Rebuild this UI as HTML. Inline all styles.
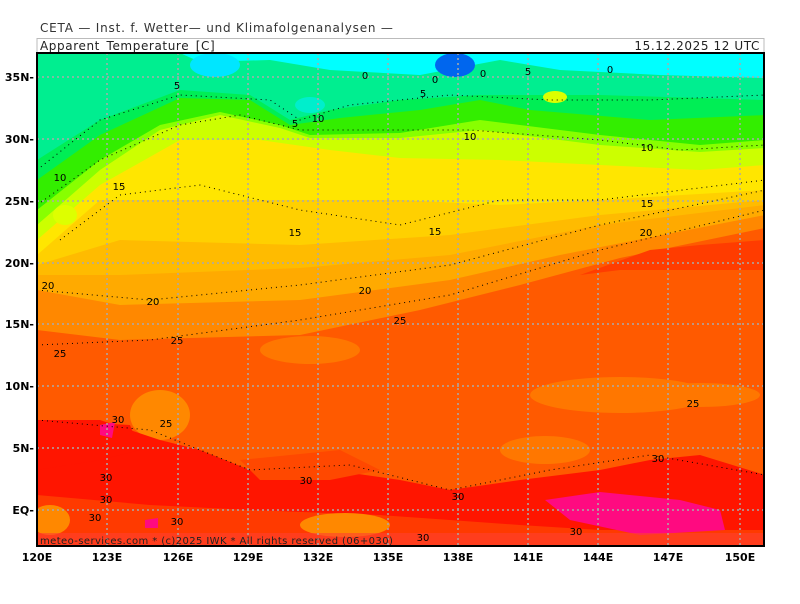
<!DOCTYPE html>
<html><head><meta charset="utf-8"><style>
body{margin:0;background:#fff;width:800px;height:600px;overflow:hidden;font-family:"DejaVu Sans","Liberation Sans",sans-serif}
</style></head><body>
<svg width="800" height="600" xmlns="http://www.w3.org/2000/svg" font-family="DejaVu Sans, Liberation Sans, sans-serif">
<text x="40" y="32" font-size="12" fill="#333" letter-spacing="0.8">CETA — Inst. f. Wetter— und Klimafolgenanalysen —</text>
<rect x="37" y="38.5" width="727" height="14" fill="#fff" stroke="#bbb"/>
<text x="40" y="50" font-size="12" fill="#222" letter-spacing="0.6">Apparent_Temperature_[C]</text>
<text x="760" y="50" font-size="12" fill="#222" text-anchor="end" letter-spacing="0.6">15.12.2025 12 UTC</text>
<defs><clipPath id="c"><rect x="37" y="53" width="727" height="493"/></clipPath></defs>
<g clip-path="url(#c)">
<rect x="37" y="53" width="727" height="493" fill="#00ffff"/>
<path d="M37,53 L180,53 L200,62 L270,60 L330,70 L420,75 L500,60 L560,70 L660,75 L765,78 L765,546 L37,546Z" fill="#00ee90"/>
<path d="M37,160 L100,120 L180,90 L250,95 L290,120 L330,110 L400,100 L480,95 L600,95 L765,100 L765,546 L37,546Z" fill="#00ee55"/>
<path d="M37,180 L100,135 L180,98 L250,100 L290,125 L340,118 L420,110 L480,100 L530,110 L650,120 L765,115 L765,546 L37,546Z" fill="#33ee00"/>
<path d="M37,210 L100,160 L160,125 L220,112 L280,125 L310,135 L400,133 L480,120 L600,135 L700,145 L765,140 L765,546 L37,546Z" fill="#88ff00"/>
<path d="M37,225 L100,170 L160,130 L220,115 L280,128 L310,138 L400,138 L480,130 L600,145 L700,152 L765,148 L765,546 L37,546Z" fill="#ccff00"/>
<path d="M37,240 L100,185 L180,140 L260,140 L330,150 L400,158 L500,160 L600,165 L700,170 L765,165 L765,546 L37,546Z" fill="#ffe600"/>
<path d="M37,255 L100,200 L250,200 L400,200 L500,205 L600,200 L765,190 L765,546 L37,546Z" fill="#ffd000"/>
<path d="M37,265 L120,240 L300,245 L450,235 L600,215 L765,200 L765,546 L37,546Z" fill="#ffbb00"/>
<path d="M37,275 L120,275 L300,268 L450,255 L600,225 L765,205 L765,546 L37,546Z" fill="#ffaa00"/>
<path d="M37,290 L120,305 L300,300 L450,280 L560,255 L765,215 L765,546 L37,546Z" fill="#ff8800"/>
<path d="M37,330 L120,340 L300,335 L420,310 L520,285 L620,258 L765,228 L765,546 L37,546Z" fill="#ff5a00"/>
<path d="M580,275 L650,250 L700,245 L765,240 L765,270 L700,270 L620,270 Z" fill="#ff3c00"/>
<ellipse cx="310" cy="350" rx="50" ry="14" fill="#ff7700"/>
<ellipse cx="620" cy="395" rx="90" ry="18" fill="#ff7700"/>
<ellipse cx="700" cy="395" rx="60" ry="12" fill="#ff7700"/>
<ellipse cx="545" cy="450" rx="45" ry="14" fill="#ff7700"/>
<ellipse cx="160" cy="415" rx="30" ry="25" fill="#ff8800"/>
<path d="M37,420 L100,420 L160,440 L200,450 L250,470 L330,470 L400,480 L450,490 L520,480 L600,470 L650,460 L700,455 L765,475 L765,546 L37,546Z" fill="#ff1500"/>
<path d="M37,420 L130,425 L140,450 L100,460 L37,470Z" fill="#ff1500"/>
<path d="M240,460 L340,450 L380,470 L330,480 L260,480Z" fill="#ff4800"/>
<path d="M37,495 L150,505 L250,510 L380,515 L450,520 L520,525 L600,530 L765,530 L765,546 L37,546Z" fill="#ff3a00"/>
<ellipse cx="345" cy="525" rx="45" ry="12" fill="#ff8800"/>
<ellipse cx="50" cy="520" rx="20" ry="15" fill="#ff8800"/>
<path d="M545,500 L600,492 L680,500 L720,510 L725,530 L640,535 L570,520Z" fill="#ff0a80"/>
<path d="M100,425 L115,422 L112,438 L100,435Z" fill="#ff0a80"/>
<path d="M145,520 L158,518 L158,528 L145,528Z" fill="#ff0a80"/>
<ellipse cx="215" cy="65" rx="25" ry="12" fill="#00e6ff"/>
<ellipse cx="455" cy="65" rx="20" ry="12" fill="#0066ee"/>
<ellipse cx="310" cy="105" rx="15" ry="8" fill="#00eecc"/>
<ellipse cx="555" cy="97" rx="12" ry="6" fill="#ddff00"/>
<ellipse cx="65" cy="215" rx="12" ry="10" fill="#ddff00"/>
<rect x="37" y="533" width="727" height="13" fill="#ff4030" opacity="0.6"/>
<g stroke="#aaa" stroke-width="1.5" stroke-dasharray="2,3">
<line x1="107" y1="53" x2="107" y2="546"/><line x1="178" y1="53" x2="178" y2="546"/><line x1="248" y1="53" x2="248" y2="546"/><line x1="318" y1="53" x2="318" y2="546"/><line x1="388" y1="53" x2="388" y2="546"/><line x1="458" y1="53" x2="458" y2="546"/><line x1="528" y1="53" x2="528" y2="546"/><line x1="598" y1="53" x2="598" y2="546"/><line x1="668" y1="53" x2="668" y2="546"/><line x1="740" y1="53" x2="740" y2="546"/>
<line x1="37" y1="77" x2="764" y2="77"/><line x1="37" y1="139" x2="764" y2="139"/><line x1="37" y1="201" x2="764" y2="201"/><line x1="37" y1="263" x2="764" y2="263"/><line x1="37" y1="324" x2="764" y2="324"/><line x1="37" y1="386" x2="764" y2="386"/><line x1="37" y1="448" x2="764" y2="448"/><line x1="37" y1="510" x2="764" y2="510"/>
</g>
<g fill="none" stroke="#000" stroke-width="1" stroke-dasharray="1,4">
<path d="M37,170 L100,120 L180,95 L270,100 L300,120 L350,105 L450,95 L550,100 L650,100 L765,95"/>
<path d="M37,205 L100,160 L180,125 L240,115 L300,130 L400,130 L470,130 L600,140 L680,150 L765,145"/>
<path d="M60,240 L120,195 L200,185 L300,210 L400,225 L500,200 L600,200 L765,180"/>
<path d="M37,290 L150,300 L300,285 L450,265 L600,225 L765,190"/>
<path d="M37,345 L150,340 L300,320 L450,295 L600,250 L765,210"/>
<path d="M37,420 L150,430 L250,470 L350,465 L450,490 L550,470 L650,455 L765,475"/>
</g>
</g>
<g font-size="10" fill="#000" text-anchor="middle">
<text x="177" y="89">5</text><text x="365" y="79">0</text><text x="435" y="83">0</text><text x="483" y="77">0</text><text x="528" y="75">5</text><text x="610" y="73">0</text><text x="423" y="97">5</text><text x="295" y="127">5</text><text x="318" y="122">10</text><text x="470" y="140">10</text><text x="647" y="151">10</text>
<text x="60" y="181">10</text><text x="119" y="190">15</text><text x="295" y="236">15</text><text x="435" y="235">15</text><text x="647" y="207">15</text><text x="646" y="236">20</text>
<text x="48" y="289">20</text><text x="153" y="305">20</text><text x="365" y="294">20</text><text x="400" y="324">25</text><text x="177" y="344">25</text><text x="60" y="357">25</text>
<text x="693" y="407">25</text><text x="166" y="427">25</text><text x="118" y="423">30</text><text x="658" y="462">30</text><text x="106" y="481">30</text><text x="306" y="484">30</text><text x="106" y="503">30</text><text x="458" y="500">30</text><text x="95" y="521">30</text><text x="177" y="525">30</text><text x="576" y="535">30</text><text x="423" y="541">30</text>
</g>
<text x="40" y="544" font-size="10" fill="#222" letter-spacing="0.4">meteo-services.com * (c)2025 IWK * All rights reserved (06+030)</text>
<rect x="37" y="53" width="727" height="493" fill="none" stroke="#000" stroke-width="2"/>
<g font-size="11" font-weight="bold" fill="#000" text-anchor="end">
<text x="34" y="81">35N-</text><text x="34" y="143">30N-</text><text x="34" y="205">25N-</text><text x="34" y="267">20N-</text><text x="34" y="328">15N-</text><text x="34" y="390">10N-</text><text x="34" y="452">5N-</text><text x="34" y="514">EQ-</text>
</g>
<g font-size="11" font-weight="bold" fill="#000" text-anchor="middle">
<text x="37" y="561">120E</text><text x="107" y="561">123E</text><text x="178" y="561">126E</text><text x="248" y="561">129E</text><text x="318" y="561">132E</text><text x="388" y="561">135E</text><text x="458" y="561">138E</text><text x="528" y="561">141E</text><text x="598" y="561">144E</text><text x="668" y="561">147E</text><text x="740" y="561">150E</text>
</g>
</svg>
</body></html>
